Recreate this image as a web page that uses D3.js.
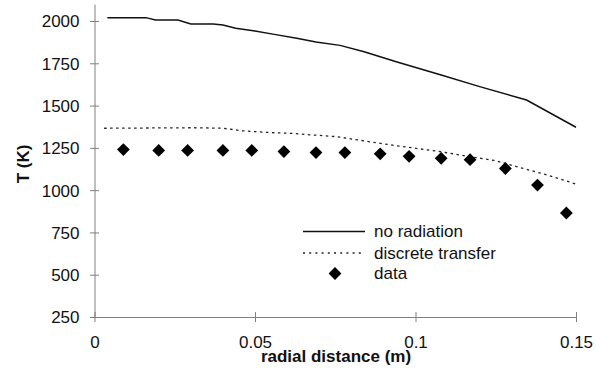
<!DOCTYPE html>
<html>
<head>
<meta charset="utf-8">
<script src="https://cdn.jsdelivr.net/npm/d3@7"></script>
<style>
  html, body { margin: 0; padding: 0; background: #fff; }
  svg { display: block; font-family: "Liberation Sans", Arial, sans-serif; }
</style>
</head>
<body>
<svg id="chart" width="596" height="369"></svg>
<script>
// ---- data ----
const noRadX = [0.004, 0.016, 0.019, 0.026, 0.030, 0.037, 0.040, 0.044, 0.050, 0.056, 0.063, 0.069, 0.0765, 0.084, 0.094, 0.108, 0.120, 0.1346, 0.150];
const noRadT = [2020, 2020, 2006, 2006, 1982, 1982, 1976, 1957, 1941, 1921, 1898, 1876, 1856, 1818, 1759, 1681, 1612, 1533, 1372];

const dtX = [0.003, 0.031, 0.040, 0.046, 0.055, 0.061, 0.0755, 0.084, 0.094, 0.108, 0.117, 0.125, 0.1315, 0.141, 0.150];
const dtT = [1366, 1369, 1366, 1351, 1340, 1336, 1316, 1291, 1263, 1227, 1198, 1174, 1139, 1090, 1036];

const dataX = [0.009, 0.020, 0.029, 0.040, 0.049, 0.059, 0.069, 0.078, 0.089, 0.098, 0.108, 0.117, 0.128, 0.138, 0.147];
const dataT = [1240, 1235, 1235, 1235, 1235, 1228, 1222, 1222, 1215, 1200, 1188, 1180, 1128, 1030, 865];

const xTicks = [0, 0.05, 0.1, 0.15];
const xTickLabels = ["0", "0.05", "0.1", "0.15"];
const yTicks = [250, 500, 750, 1000, 1250, 1500, 1750, 2000];

const legendLabels = ["no radiation", "discrete transfer", "data"];
const xTitle = "radial distance (m)";
const yTitle = "T (K)";

// ---- drawing ----
const svg = d3.select("#chart");
const x = d3.scaleLinear().domain([0, 0.15]).range([94.5, 576]);
const y = d3.scaleLinear().domain([250, 2100]).range([317, 4.1]);
const axisColor = "#808080";

// x axis
const xAxis = d3.axisBottom(x).tickValues(xTicks).tickSize(0)
  .tickFormat((d, i) => xTickLabels[i]);
const gx = svg.append("g").attr("transform", `translate(0,${y(250)})`).call(xAxis);
gx.select(".domain").attr("stroke", axisColor).attr("stroke-width", 1);
gx.selectAll(".tick text").attr("font-size", 17).attr("fill", "#111").attr("dy", 0).attr("y", 31);
gx.selectAll(".tick").append("line").attr("y1", -5).attr("y2", 5).attr("stroke", axisColor);

// y axis
const yAxis = d3.axisLeft(y).tickValues(yTicks).tickSize(0).tickFormat(d3.format("d"));
const gy = svg.append("g").attr("transform", `translate(${x(0)},0)`).call(yAxis);
gy.select(".domain").attr("stroke", axisColor).attr("stroke-width", 1);
gy.selectAll(".tick text").attr("font-size", 17).attr("fill", "#111").attr("x", -15).attr("dy", "0.35em");
gy.selectAll(".tick").append("line").attr("x1", -4.5).attr("x2", 4.5).attr("stroke", axisColor);

// titles
svg.append("text").attr("x", 336).attr("y", 362).attr("text-anchor", "middle")
  .attr("font-size", 17).attr("font-weight", "bold").attr("fill", "#111").text(xTitle);
svg.append("text").attr("transform", `translate(29,${164}) rotate(-90)`).attr("text-anchor", "middle")
  .attr("font-size", 17).attr("font-weight", "bold").attr("fill", "#111").text(yTitle);

// lines
const line = d3.line().x(d => x(d[0])).y(d => y(d[1]));
svg.append("path").datum(d3.zip(noRadX, noRadT)).attr("d", line)
  .attr("fill", "none").attr("stroke", "#111").attr("stroke-width", 1.5);
svg.append("path").datum(d3.zip(dtX, dtT)).attr("d", line)
  .attr("fill", "none").attr("stroke", "#222").attr("stroke-width", 1.3)
  .attr("stroke-dasharray", "2.5,3.5");

// markers
const diamond = d3.symbol().type(d3.symbolSquare).size(82);
svg.append("g").selectAll("path").data(d3.zip(dataX, dataT)).join("path")
  .attr("d", diamond)
  .attr("transform", d => `translate(${x(d[0])},${y(d[1])}) rotate(45)`)
  .attr("fill", "#000");

// legend
const lg = svg.append("g");
const rowsY = [231.5, 253, 273.5];
lg.append("line").attr("x1", 303).attr("x2", 365).attr("y1", rowsY[0]).attr("y2", rowsY[0])
  .attr("stroke", "#111").attr("stroke-width", 1.5);
lg.append("line").attr("x1", 303).attr("x2", 365).attr("y1", rowsY[1]).attr("y2", rowsY[1])
  .attr("stroke", "#222").attr("stroke-width", 1.3).attr("stroke-dasharray", "2,4.2");
lg.append("path").attr("d", diamond).attr("transform", `translate(335,${rowsY[2]}) rotate(45)`).attr("fill", "#000");
lg.selectAll("text").data(legendLabels).join("text")
  .attr("x", 374).attr("y", (d, i) => rowsY[i]).attr("dy", "0.35em")
  .attr("font-size", 17).attr("fill", "#111").text(d => d);
</script>
</body>
</html>
